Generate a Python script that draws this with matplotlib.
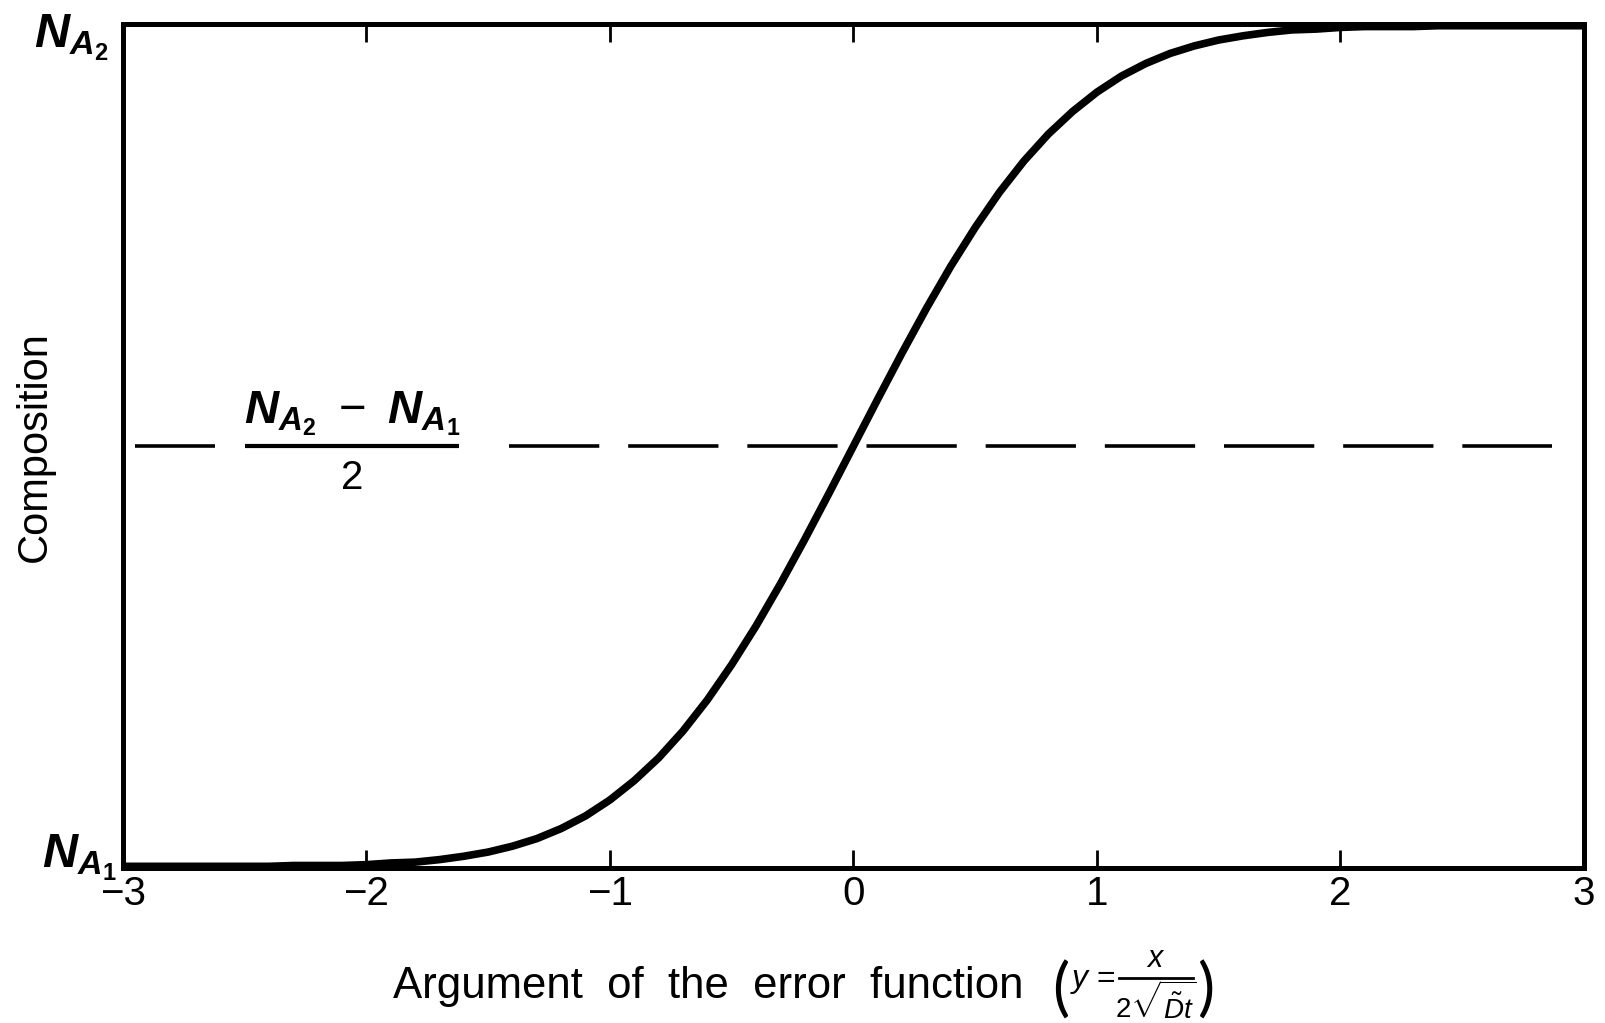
import matplotlib
matplotlib.use("Agg")
import matplotlib.pyplot as plt
from matplotlib.lines import Line2D

# Normalised composition profile: argument of the error function vs. fraction
# of the way from N_A1 to N_A2.
arg_values = [-3.0, -2.9, -2.8, -2.7, -2.6, -2.5, -2.4, -2.3, -2.2, -2.1,
              -2.0, -1.9, -1.8, -1.7, -1.6, -1.5, -1.4, -1.3, -1.2, -1.1,
              -1.0, -0.9, -0.8, -0.7, -0.6, -0.5, -0.4, -0.3, -0.2, -0.1,
              0.0, 0.1, 0.2, 0.3, 0.4, 0.5, 0.6, 0.7, 0.8, 0.9,
              1.0, 1.1, 1.2, 1.3, 1.4, 1.5, 1.6, 1.7, 1.8, 1.9,
              2.0, 2.1, 2.2, 2.3, 2.4, 2.5, 2.6, 2.7, 2.8, 2.9, 3.0]
composition = [0.000, 0.000, 0.000, 0.000, 0.000, 0.000, 0.000, 0.001, 0.001, 0.001,
               0.002, 0.004, 0.005, 0.008, 0.012, 0.017, 0.024, 0.033, 0.045, 0.060,
               0.079, 0.102, 0.129, 0.161, 0.198, 0.240, 0.286, 0.336, 0.389, 0.444,
               0.500, 0.556, 0.611, 0.664, 0.714, 0.760, 0.802, 0.839, 0.871, 0.898,
               0.921, 0.940, 0.955, 0.967, 0.976, 0.983, 0.988, 0.992, 0.995, 0.996,
               0.998, 0.999, 0.999, 0.999, 1.000, 1.000, 1.000, 1.000, 1.000, 1.000, 1.000]

x_ticks = [-3, -2, -1, 0, 1, 2, 3]
x_tick_labels = ["\u22123", "\u22122", "\u22121", "0", "1", "2", "3"]
N_A1, N_A2 = 0.0, 1.0
mid_level = 0.5

plt.rcParams["font.family"] = ["Liberation Sans", "DejaVu Sans"]
plt.rcParams["mathtext.fontset"] = "custom"
plt.rcParams["mathtext.rm"] = "Liberation Sans"
plt.rcParams["mathtext.it"] = "Liberation Sans:italic"
plt.rcParams["mathtext.bf"] = "Liberation Sans:bold"
plt.rcParams["mathtext.bfit"] = "Liberation Sans:bold:italic"

fig = plt.figure(figsize=(16.05, 10.23), dpi=100)
ax = fig.add_axes([0.0766, 0.1515, 0.9103, 0.8250])

ax.plot(arg_values, composition, color="black", lw=5.5,
        solid_capstyle="butt", solid_joinstyle="round", zorder=3)

# Dashed half-way line, broken where the label sits
ax.plot([-2.95, -2.62], [mid_level, mid_level], color="black", lw=2.6,
        solid_capstyle="butt")
ax.plot([-1.415, 2.87], [mid_level, mid_level], color="black", lw=2.6,
        linestyle=(0, (25, 8)), dash_capstyle="butt")

# Fraction label (N_A2 - N_A1) / 2
ax.plot([-2.50, -1.62], [mid_level, mid_level], color="black", lw=3.0,
        solid_capstyle="butt")
ax.text(-2.06, mid_level + 0.010,
        r"$\mathbfit{N}_{\mathbfit{A}_{\mathbf{2}}}\ -\ \mathbfit{N}_{\mathbfit{A}_{\mathbf{1}}}$",
        ha="center", va="bottom", fontsize=34)
ax.text(-2.06, mid_level - 0.016, "2", ha="center", va="top", fontsize=29)

ax.set_xlim(-3, 3)
ax.set_ylim(N_A1 - 0.002, N_A2 + 0.002)
ax.set_xticks(x_ticks)
ax.set_xticklabels(x_tick_labels, fontsize=29)
ax.set_yticks([])
ax.tick_params(axis="x", which="both", direction="in", length=13, width=2,
               top=True, bottom=True, pad=5)
# no tick marks at the frame corners
for tick, val in zip(ax.xaxis.get_major_ticks(), x_ticks):
    if abs(val) == 3:
        tick.tick1line.set_visible(False)
        tick.tick2line.set_visible(False)

for sp in ax.spines.values():
    sp.set_linewidth(3.6)

# Endpoint composition labels
fig.text(0.021, 0.963,
         r"$\mathbfit{N}_{\mathbfit{A}_{\mathbf{2}}}$", fontsize=35,
         ha="left", va="center")
fig.text(0.026, 0.161,
         r"$\mathbfit{N}_{\mathbfit{A}_{\mathbf{1}}}$", fontsize=35,
         ha="left", va="center")

fig.text(0.022, 0.563, "Composition", rotation=90, fontsize=30,
         ha="center", va="center")

# x-axis title with the definition of the argument in large parentheses
fig.text(0.245, 0.036, "Argument  of  the  error  function", fontsize=31.5,
         ha="left", va="center")
paren_font = dict(family=["Lato", "Liberation Sans"], weight="normal",
                  fontsize=46)
fig.text(0.661, 0.031, "(", ha="center", va="center", **paren_font)
fig.text(0.752, 0.031, ")", ha="center", va="center", **paren_font)
fig.text(0.681, 0.041, r"$y$ =", fontsize=23, ha="center", va="center")
fig.add_artist(Line2D([0.697, 0.743], [0.044, 0.044], transform=fig.transFigure,
                      color="black", lw=2.0))
fig.text(0.720, 0.048, r"$x$", fontsize=22, ha="center", va="bottom")
fig.text(0.720, 0.040, r"$2\sqrt{\tilde{D}t}$", fontsize=20,
         ha="center", va="top")

fig.savefig("out.png", dpi=100)
